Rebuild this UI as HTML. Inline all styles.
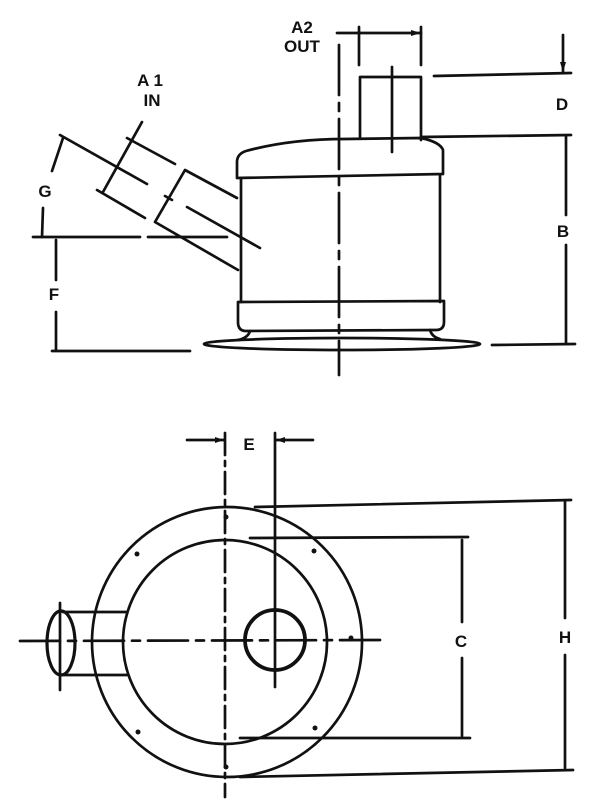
<!DOCTYPE html>
<html><head><meta charset="utf-8"><style>
html,body{margin:0;padding:0;background:#fff;}
svg{display:block;}
text{font-family:"Liberation Sans",sans-serif;font-size:17px;font-weight:bold;fill:#111;text-anchor:middle;}
</style></head><body>
<svg width="616" height="812" viewBox="0 0 616 812" xmlns="http://www.w3.org/2000/svg">
<g stroke="#111" stroke-width="2.7" fill="none" stroke-linecap="round" stroke-linejoin="round">
<!-- TOP VIEW -->
<line x1="339" y1="45" x2="339" y2="375" stroke-dasharray="50,8,8,8"/>
<line x1="337" y1="33" x2="421" y2="33"/>
<line x1="359" y1="27" x2="359" y2="65"/>
<line x1="421" y1="27" x2="421" y2="65"/>
<path d="M360 138 L360 77 L421 77 L421 140"/>
<line x1="392" y1="67" x2="392" y2="152"/>
<line x1="434" y1="76" x2="571" y2="73"/>
<line x1="563" y1="35" x2="563" y2="72"/>
<line x1="421" y1="137" x2="571" y2="135"/>
<line x1="566" y1="137" x2="566" y2="215"/>
<line x1="566" y1="245" x2="566" y2="343"/>
<line x1="492" y1="345" x2="575" y2="344"/>
<path d="M237 178 L237 162 Q237 154 246 151 Q290 139 345 139 L421 138 Q440 142 443 150 L443 174 Z"/>
<line x1="241" y1="178" x2="241" y2="302"/>
<line x1="440" y1="176" x2="440" y2="302"/>
<path d="M238 302 L444 301 L444 322 Q444 330 436 330 L246 331 Q238 331 238 322 Z"/>
<path d="M250 331 Q248 338 238 340 M430 330 Q432 337 440 339"/>
<ellipse cx="342" cy="344" rx="138" ry="6"/>
<path d="M237 198 L185 170 L155 222 L238 270"/>
<line x1="187" y1="207" x2="260" y2="248"/>
<line x1="165" y1="196" x2="172" y2="200"/>
<line x1="127" y1="138" x2="175" y2="164"/>
<line x1="97" y1="190" x2="145" y2="218"/>
<line x1="142" y1="122" x2="103" y2="192"/>
<line x1="60" y1="135" x2="147" y2="184"/>
<line x1="63" y1="138" x2="52" y2="171"/>
<line x1="43" y1="208" x2="42" y2="237"/>
<line x1="33" y1="237" x2="140" y2="237"/>
<line x1="148" y1="237" x2="227" y2="237"/>
<line x1="56" y1="240" x2="56" y2="280"/>
<line x1="56" y1="312" x2="56" y2="350"/>
<line x1="52" y1="351" x2="190" y2="351"/>

<!-- BOTTOM VIEW -->
<line x1="225" y1="433" x2="225" y2="797" stroke-dasharray="22,6,5,6"/>
<line x1="275" y1="433" x2="275" y2="687"/>
<line x1="187" y1="440" x2="224" y2="440"/>
<line x1="276" y1="440" x2="313" y2="440"/>
<circle cx="227" cy="642" r="135"/>
<circle cx="225" cy="642" r="102"/>
<circle cx="275" cy="640" r="30" stroke-width="3.8"/>
<line x1="20" y1="641" x2="387" y2="640" stroke-dasharray="40,8,8,8"/>
<path d="M127 612 L63 612 M127 675 L63 675"/>
<ellipse cx="61" cy="643" rx="14" ry="32" stroke-width="3.2"/>
<line x1="60" y1="603" x2="60" y2="690"/>
<line x1="250" y1="538" x2="468" y2="537"/>
<line x1="240" y1="738" x2="470" y2="738"/>
<line x1="462" y1="540" x2="462" y2="622"/>
<line x1="462" y1="658" x2="462" y2="736"/>
<line x1="255" y1="507" x2="571" y2="500"/>
<line x1="240" y1="777" x2="573" y2="770"/>
<line x1="565" y1="502" x2="565" y2="618"/>
<line x1="565" y1="655" x2="565" y2="768"/>
</g>
<g fill="#111">
<circle cx="137" cy="554" r="2.5"/><circle cx="314" cy="551" r="2.5"/>
<circle cx="138" cy="732" r="2.5"/><circle cx="315" cy="728" r="2.5"/>
<circle cx="226" cy="517" r="2.5"/><circle cx="226" cy="767" r="2.5"/>
<circle cx="351" cy="638" r="2.5"/>
<path d="M224 440 l-9 -3 v6 Z M276 440 l9 -3 v6 Z"/>
<path d="M421 33 l-10 -3 v6 Z M563 72 l-3 -10 h6 Z"/>
</g>
<text x="302" y="33">A2</text>
<text x="302" y="52">OUT</text>
<text x="150" y="86">A 1</text>
<text x="152" y="106">IN</text>
<text x="562" y="110">D</text>
<text x="563" y="237">B</text>
<text x="45" y="197">G</text>
<text x="54" y="300">F</text>
<text x="249" y="450">E</text>
<text x="461" y="647">C</text>
<text x="565" y="643">H</text>
</svg>
</body></html>
